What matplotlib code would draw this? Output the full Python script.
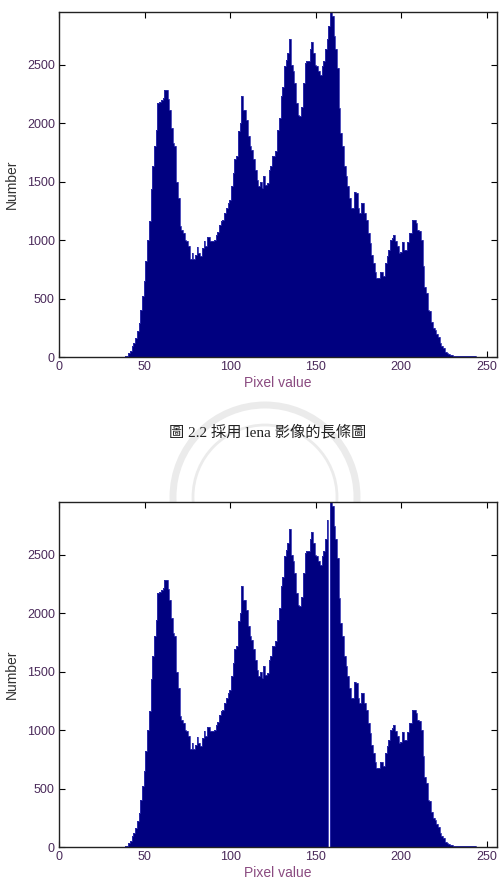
import numpy as np
import matplotlib
matplotlib.use("Agg")
import matplotlib.pyplot as plt
from matplotlib.patches import Circle

# ---------- data ----------

pixel_values = np.arange(256)

counts_top = [0] * 39 + [
    5, 12, 30, 55, 90, 120, 165, 220, 290, 400,             # 39-48
    520, 650, 820, 1000, 1160, 1440, 1630, 1800, 1940, 2170,  # 49-58
    2180, 2200, 2215, 2280, 2280, 2210, 2115, 1960, 1830, 1800,  # 59-68
    1500, 1360, 1120, 1090, 1060, 1000, 990, 950, 840, 890,   # 69-78
    840, 870, 940, 890, 860, 930, 990, 950, 1030, 1030,       # 79-88
    990, 990, 1000, 1045, 1070, 1130, 1160, 1175, 1230, 1275,  # 89-98
    1320, 1345, 1460, 1570, 1690, 1715, 1930, 2000, 2230, 2115,  # 99-108
    2115, 2030, 1890, 1800, 1770, 1690, 1600, 1515, 1460, 1500,  # 109-118
    1445, 1545, 1470, 1490, 1600, 1630, 1715, 1715, 1760, 1940,  # 119-128
    2040, 2230, 2310, 2485, 2540, 2600, 2715, 2500, 2445, 2345,  # 129-138
    2170, 2070, 2060, 2140, 2345, 2515, 2530, 2530, 2630, 2695,  # 139-148
    2600, 2500, 2485, 2445, 2410, 2485, 2530, 2630, 2715, 2830,  # 149-158
    2950, 2915, 2745, 2630, 2470, 2130, 1915, 1800, 1630, 1545,  # 159-168
    1460, 1360, 1275, 1275, 1415, 1400, 1275, 1230, 1315, 1315,  # 169-178
    1230, 1175, 1060, 975, 875, 800, 730, 675, 675, 730,      # 179-188
    730, 690, 800, 860, 915, 1000, 1015, 1045, 990, 945,      # 189-198
    890, 900, 985, 915, 915, 985, 1060, 1060, 1175, 1175,     # 199-208
    1145, 1090, 1075, 1000, 775, 600, 545, 400, 390, 300,     # 209-218
    245, 230, 200, 175, 120, 90, 75, 45, 30, 25,              # 219-228
    17, 14, 8, 8, 8, 8, 8, 5, 5, 5,                           # 229-238
    5, 5, 5, 5, 5, 3,                                         # 239-244
] + [0] * 11

# second histogram: one empty bin next to the peak
counts_bottom = list(counts_top)
counts_bottom[157] = 2800
counts_bottom[158] = 0

caption = "圖 2.2 採用 lena 影像的長條圖"

# ---------- plot ----------

fig = plt.figure(figsize=(5.02, 8.94), dpi=100)
fig.patch.set_facecolor("white")

# faint seal watermark behind the caption (pixel coords, drawn underneath)
bg = fig.add_axes([0, 0, 1, 1], zorder=-1)
bg.set_xlim(0, 502)
bg.set_ylim(894, 0)
bg.axis("off")
for r, lw in [(92, 5), (72, 2)]:
    bg.add_patch(Circle((265, 497), r, fill=False,
                        edgecolor="#ebebeb", linewidth=lw))

bar_color = "#000080"
edge_color = "#3030b0"
tick_color = "#4a2a5a"


def draw_hist(ax, counts):
    edges = np.append(pixel_values, 256) - 0.5
    ax.stairs(counts, edges, fill=True, color=bar_color, zorder=2)
    ax.stairs(counts, edges, color=edge_color, linewidth=0.6, zorder=3)
    ax.set_xlim(0, 256)
    ax.set_ylim(0, max(counts_top))
    ax.set_xticks(range(0, 251, 50))
    ax.set_yticks(range(0, 2501, 500))
    ax.tick_params(direction="in", top=True, right=True, length=4,
                   labelsize=9, labelcolor=tick_color, pad=3)
    for lab in ax.get_xticklabels() + ax.get_yticklabels():
        lab.set_family("Liberation Sans")
    for s in ax.spines.values():
        s.set_linewidth(1.0)
        s.set_color("#222222")
        s.set_zorder(5)
    ax.set_xlabel("Pixel value", fontsize=10, color="#8a4a80", labelpad=2,
                  family="Liberation Sans")
    ax.set_ylabel("Number", fontsize=10, color="#333333", labelpad=6,
                  family="Liberation Sans")
    ax.set_facecolor("white")


ax1 = fig.add_axes([59 / 502, 1 - 357 / 894, 438 / 502, 345 / 894])
draw_hist(ax1, counts_top)

ax2 = fig.add_axes([59 / 502, 1 - 847 / 894, 438 / 502, 345 / 894])
draw_hist(ax2, counts_bottom)

fig.text(268 / 502, 1 - 432 / 894, caption, ha="center", va="center",
         fontsize=11, color="#222222",
         family=["Liberation Serif", "Noto Sans CJK TC"])

fig.savefig("out.png", dpi=100)
